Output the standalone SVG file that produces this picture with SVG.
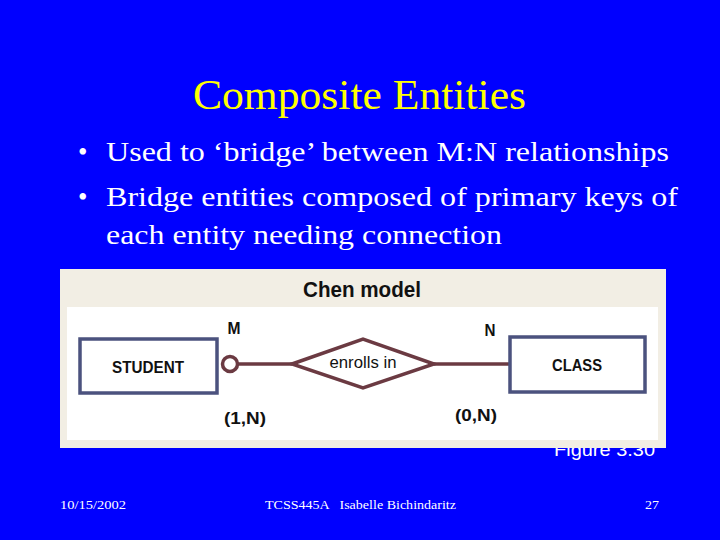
<svg xmlns="http://www.w3.org/2000/svg" width="720" height="540" viewBox="0 0 720 540">
<style>
.title{font-family:"Liberation Serif",serif;font-size:43px;fill:#FFFF00}
.bul{font-family:"Liberation Serif",serif;font-size:27px;fill:#FFFFFF}
.foot{font-family:"Liberation Serif",serif;font-size:13px;fill:#FFFFFF}
.ent{fill:#FFFFFF;stroke:#4B527E;stroke-width:3.5}
.lbl{font-family:"Liberation Sans",Arial,sans-serif;font-weight:bold;font-size:17px;fill:#111111}
.conn{stroke:#6B3A42;stroke-width:3.5;fill:none}
</style>
<rect width="720" height="540" fill="#0000FF"/>
<text class="title" x="193" y="109" textLength="333" lengthAdjust="spacingAndGlyphs">Composite Entities</text>
<g class="bul">
<text x="78" y="161">•</text><text x="106" y="161" textLength="563" lengthAdjust="spacingAndGlyphs">Used to ‘bridge’ between M:N relationships</text>
<text x="78" y="206">•</text><text x="106" y="206" textLength="572" lengthAdjust="spacingAndGlyphs">Bridge entities composed of primary keys of</text>
<text x="106" y="244" textLength="396" lengthAdjust="spacingAndGlyphs">each entity needing connection</text>
</g>
<text x="554" y="456" font-family="Liberation Sans,Arial,sans-serif" font-size="19" fill="#FFFFFF" textLength="101" lengthAdjust="spacingAndGlyphs">Figure 3.30</text>
<g id="panel">
<rect x="60" y="269" width="606" height="179" fill="#F2EEE4"/>
<rect x="67" y="307" width="591" height="133" fill="#FFFFFF"/>
<text x="362" y="297" text-anchor="middle" font-family="Liberation Sans,Arial,sans-serif" font-weight="bold" font-size="22" fill="#111111" textLength="118" lengthAdjust="spacingAndGlyphs">Chen model</text>
</g>
<g id="connectors">
<circle class="conn" cx="230" cy="364" r="7.5"/>
<line class="conn" x1="237.5" y1="364" x2="292" y2="364"/>
<line class="conn" x1="434" y1="364" x2="510" y2="364"/>
</g>
<g id="student">
<rect class="ent" x="80" y="339" width="137" height="54"/>
<text class="lbl" x="148" y="373" text-anchor="middle" textLength="72" lengthAdjust="spacingAndGlyphs">STUDENT</text>
</g>
<g id="class">
<rect class="ent" x="510" y="337" width="135" height="55"/>
<text class="lbl" x="577" y="371" text-anchor="middle" textLength="50" lengthAdjust="spacingAndGlyphs">CLASS</text>
</g>
<g id="enrolls">
<polygon points="292,364 363,339 434,364 363,388" fill="#FFFFFF" stroke="#6B3A42" stroke-width="3.5"/>
<text x="363" y="368" text-anchor="middle" font-family="Liberation Sans,Arial,sans-serif" font-size="16" fill="#111111" textLength="67" lengthAdjust="spacingAndGlyphs">enrolls in</text>
</g>
<g id="labels">
<text class="lbl" x="234" y="334" text-anchor="middle" textLength="13" lengthAdjust="spacingAndGlyphs">M</text>
<text class="lbl" x="490" y="336" text-anchor="middle" textLength="11" lengthAdjust="spacingAndGlyphs">N</text>
<text class="lbl" x="245" y="424" text-anchor="middle" textLength="42" lengthAdjust="spacingAndGlyphs">(1,N)</text>
<text class="lbl" x="476" y="421" text-anchor="middle" textLength="42" lengthAdjust="spacingAndGlyphs">(0,N)</text>
</g>
<g class="foot">
<text x="60" y="509" textLength="66" lengthAdjust="spacingAndGlyphs">10/15/2002</text>
<text x="265" y="509" textLength="191" lengthAdjust="spacingAndGlyphs" xml:space="preserve">TCSS445A   Isabelle Bichindaritz</text>
<text x="645" y="509" textLength="14" lengthAdjust="spacingAndGlyphs">27</text>
</g>
</svg>
